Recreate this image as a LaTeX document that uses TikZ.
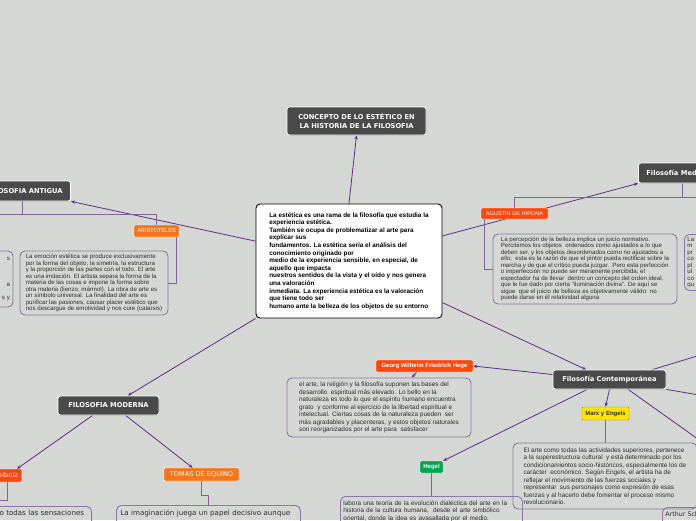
\documentclass[tikz,border=0pt]{standalone}
\usepackage{fontspec}
\setmainfont{Liberation Sans}
\newfontfamily\verd{DejaVu Sans}
\usetikzlibrary{arrows.meta,shadows}
\pgfdeclarelayer{back}
\pgfdeclarelayer{wires}
\pgfsetlayers{back,wires,main}

\definecolor{bgc}{RGB}{213,215,212}
\definecolor{darkbox}{RGB}{74,74,74}
\definecolor{linkc}{RGB}{92,48,128}
\definecolor{treec}{RGB}{128,100,155}
\definecolor{framec}{RGB}{140,118,166}
\definecolor{orangeA}{RGB}{244,118,28}
\definecolor{redA}{RGB}{252,72,14}
\definecolor{yellowA}{RGB}{255,228,0}
\definecolor{greenA}{RGB}{0,164,82}
\definecolor{inkc}{RGB}{45,45,45}

\begin{document}
\begin{tikzpicture}[x=1pt,y=-1pt,
	topic/.style={fill=darkbox,draw=white,line width=0.8pt,rounded corners=2.5pt,text=white,
		font=\verd\bfseries\fontsize{6.7}{8.6}\selectfont,inner xsep=8pt,minimum height=19pt,
		drop shadow={shadow xshift=0.5pt,shadow yshift=-0.8pt,opacity=0.3}},
	tag/.style={draw=white,line width=0.4pt,rounded corners=1pt,text=white,inner xsep=3pt,inner ysep=0pt,
		font=\fontsize{5.6}{6}\selectfont},
	boldtag/.style={tag,font=\bfseries\fontsize{6}{6.5}\selectfont},
	verdtag/.style={tag,font=\verd\fontsize{6.6}{7}\selectfont},
	note/.style={draw=framec,line width=0.9pt,rounded corners=5pt,text=inkc,align=left,inner sep=0pt,
		font=\fontsize{6.1}{6.5}\selectfont},
	bignote/.style={note,font=\fontsize{6.4}{7.5}\selectfont},
	verdnote/.style={note,font=\verd\fontsize{7.1}{8.5}\selectfont},
	link/.style={draw=linkc,line width=0.8pt,-{Stealth[length=4pt,width=3.5pt]}},
	tree/.style={draw=treec,line width=0.8pt}]
%
	\useasboundingbox (0,0) rectangle (696,520);
	\begin{pgfonlayer}{back}
		\fill[bgc] (0,0) rectangle (696,520);
	\end{pgfonlayer}
	\clip (0,0) rectangle (696,520);
%
	% main topics
	\node[topic,minimum width=139pt,minimum height=28pt,align=center] (title) at (356.5,121)
		{CONCEPTO DE LO ESTÉTICO EN\\LA HISTORIA DE LA FILOSOFIA};
	\node[draw=black,fill=white,line width=0.9pt,rounded corners=4pt,align=left,text=black,
		minimum width=186pt,minimum height=114pt,font=\bfseries\fontsize{6.4}{7.6}\selectfont] (cen) at (349,261)
		{La estética es una rama de la filosofía que estudia la\\
		experiencia estética.\\
		También se ocupa de problematizar al arte para\\
		explicar sus\\
		fundamentos. La estética sería el análisis del\\
		conocimiento originado por\\
		medio de la experiencia sensible, en especial, de\\
		aquello que impacta\\
		nuestros sentidos de la vista y el oído y nos genera\\
		una valoración\\
		inmediata. La experiencia estética es la valoración\\
		que tiene todo ser\\
		humano ante la belleza de los objetos de su entorno};
	\node[topic,anchor=east,minimum height=20pt] (antigua) at (71,191) {FILOSOFIA ANTIGUA};
	\node[topic,anchor=west,minimum height=20pt] (medieval) at (638,173) {Filosofía Medieval};
	\node[topic,minimum width=101pt] (moderna) at (108.5,405.5) {FILOSOFIA MODERNA};
	\node[topic,minimum width=113pt] (contemp) at (609.5,379.5) {Filosofía Contemporánea};
%
	% authors
	\node[tag,fill=orangeA,minimum width=45pt,minimum height=12pt] (aristo) at (156.5,231) {ARISTOTELES};
	\node[tag,fill=redA,minimum width=67pt,minimum height=11pt] (agustin) at (514.5,213.5) {AGUSTIN DE HIPONA};
	\node[boldtag,fill=redA,minimum width=97pt,minimum height=12pt] (georg) at (424.5,366) {Georg Wilhelm Friedrich Hege};
	\node[boldtag,fill=yellowA,text=inkc,draw=yellowA!60!black,minimum width=47pt,minimum height=13pt] (marx) at (605.5,413.5) {Marx y Engels};
	\node[boldtag,fill=greenA,minimum width=23pt,minimum height=12pt] (hegel) at (431.5,467) {Hegel};
	\node[verdtag,fill=orangeA,minimum width=75pt,minimum height=13pt] (tomas) at (201.5,474.5) {TOMAS DE EQUINO};
	\node[verdtag,fill=redA,anchor=east,minimum height=13pt,inner xsep=4pt] (leibniz) at (22,475.5) {Leibniz};
%
	% notes
	\node[note,align=right,text width=67pt,inner xsep=3pt,minimum height=56pt] (antX) at (-23.5,279)
		{s\\ \mbox{}\\ \mbox{}\\ \mbox{}\\ a\\ \mbox{}\\ s y};
	\node[note,minimum width=148pt,minimum height=64pt] (aristT) at (94,283)
		{La emoción estética se produce exclusivamente\\
		por la forma del objeto, la simetría, la estructura\\
		y la proporción de las partes con el todo. El arte\\
		es una imitación. El artista separa la forma de la\\
		materia de las cosas e impone la forma sobre\\
		otra materia (lienzo, mármol). La obra de arte es\\
		un símbolo universal. La finalidad del arte es\\
		purificar las pasiones, causar placer estético que\\
		nos descargue de emotividad y nos cure (catarsis)};
	\node[note,minimum width=184pt,minimum height=70pt] (agusT) at (585,269)
		{La percepción de la belleza implica un juicio normativo.\\
		Percibimos los objetos\ \ ordenados como ajustados a lo que\\
		deben ser, y los objetos desordenados como no ajustados a\\
		ello;\ \ esta es la razón de que el pintor pueda rectificar sobre la\\
		marcha y de que el crítico pueda juzgar.\ \ Pero esta perfección\\
		o imperfección no puede ser meramente percibida; el\\
		espectador ha de llevar\ \ dentro un concepto del orden ideal,\\
		que le fue dado por cierta “iluminación divina”. De aquí se\\
		sigue\ \ que el juicio de belleza es objetivamente válido: no\\
		puede darse en él relatividad alguna};
	\node[note,text width=94pt,inner xsep=3pt,minimum height=56pt,anchor=north west] (medX) at (684,234)
		{La\\m\\pr\\co\\pl\\ul\\co\\qu};
	\node[bignote,minimum width=184pt,minimum height=59pt] (georgT) at (379,407.5)
		{el arte, la religión y la filosofía suponen las bases del\\
		desarrollo\ \ espiritual más elevado. Lo bello en la\\
		naturaleza es todo lo que el espíritu humano encuentra\\
		grato\ \ y conforme al ejercicio de la libertad espiritual e\\
		intelectual. Ciertas cosas de la naturaleza pueden\ \ ser\\
		más agradables y placenteras, y estos objetos naturales\\
		son reorganizados por el arte para\ \ satisfacer};
	\node[bignote,minimum width=184pt,minimum height=66pt] (marxT) at (605,476)
		{El arte como todas las actividades superiores, pertenece\\
		a la superestructura cultural\ \ y está determinado por los\\
		condicionamientos socio-históricos, especialmente los de\\
		carácter\ \ económico. Según Engels, el artista ha de\\
		reflejar el movimiento de las fuerzas sociales y\\
		representar\ \ sus personajes como expresión de esas\\
		fuerzas y al hacerlo debe fomentar el proceso mismo\\
		revolucionario.};
	\node[bignote,text width=176pt,inner xsep=3pt,inner ysep=4pt,anchor=north west] (hegelT) at (340,496)
		{labora una teoría de la evolución dialéctica del arte en la\\
		historia de la cultura humana,\ \ desde el arte simbólico\\
		oriental, donde la idea es avasallada por el medio.\\ \mbox{}\\ \mbox{}\\ \mbox{}};
	\node[verdnote,text width=176pt,inner xsep=4pt,inner ysep=4pt,anchor=north west] (tomasT) at (116,505)
		{\mbox{La imaginación juega un papel decisivo aunque}\\ \mbox{}\\ \mbox{}\\ \mbox{}};
	\node[verdnote,text width=83pt,inner xsep=9pt,inner ysep=4pt,anchor=north east] (leibT) at (92,506)
		{\mbox{o todas las sensaciones}\\ \mbox{}\\ \mbox{}\\ \mbox{}};
	\node[verdnote,text width=90pt,inner xsep=3pt,inner ysep=4pt,anchor=north west,
		font=\verd\fontsize{6.3}{8}\selectfont] (arthur) at (662,507)
		{\mbox{Arthur Schopenhauer}\\ \mbox{}\\ \mbox{}\\ \mbox{}};
%
	% off-page ends
	\coordinate (offA) at (740,343);
	\coordinate (offB) at (740,402);
	\coordinate (offC) at (740,469);
	\coordinate (antiguaL) at (-40,214);
	\coordinate (medievalR) at (760,197);
	\coordinate (leibnizL) at (-20,500);
%
	\begin{pgfonlayer}{wires}
	\clip (0,0) rectangle (696,520);
	% connectors
	\draw[link] (cen.north) -- (title.south);
	\draw[link] (cen.168) -- (antigua.south east);
	\draw[link] (cen.15) -- (medieval.south west);
	\draw[link] (cen.south west) -- (moderna.27);
	\draw[link] (cen.336) -- (contemp.157);
	\draw[link] (moderna.212) -- ([xshift=-5pt]leibniz.north east);
	\draw[link] (moderna.330) -- (tomas.143);
	\draw[link] (contemp.175) -- (georg.east);
	\draw[link] ([xshift=-8pt]georg.south) -- ([xshift=33pt]georgT.north);
	\draw[link] (contemp.south) -- (marx.north);
	\draw[link] (contemp.204) -- (hegel.north east);
	\draw[link] (contemp.13) -- (offA);
	\draw[link] (contemp.south east) -- (offB);
	\draw[link] (contemp.332) -- (offC);
	% branches
	\draw[tree] ([xshift=-49pt]antigua.south east) -- ++(0,13);
	\draw[tree] (antiguaL) -| (aristo.north);
	\draw[tree] ([xshift=20pt]aristo.south) |- (aristT.east);
	\draw[tree] ([xshift=44pt]medieval.south west) -- ++(0,14);
	\draw[tree] (agustin.north) |- (medievalR);
	\draw[tree] ([xshift=4pt]agustin.south west) |- (agusT.west);
	\draw[tree] ([xshift=-15pt]leibniz.south east) |- (leibnizL);
	\draw[tree] (tomas.south) -- ++(0,14) -| ([xshift=92pt]tomasT.north west);
	\draw[tree] (marx.south) -- (marx.south |- marxT.north);
	\draw[tree] (hegel.south) -- (hegel.south |- hegelT.north);
	\end{pgfonlayer}
\end{tikzpicture}
\end{document}
